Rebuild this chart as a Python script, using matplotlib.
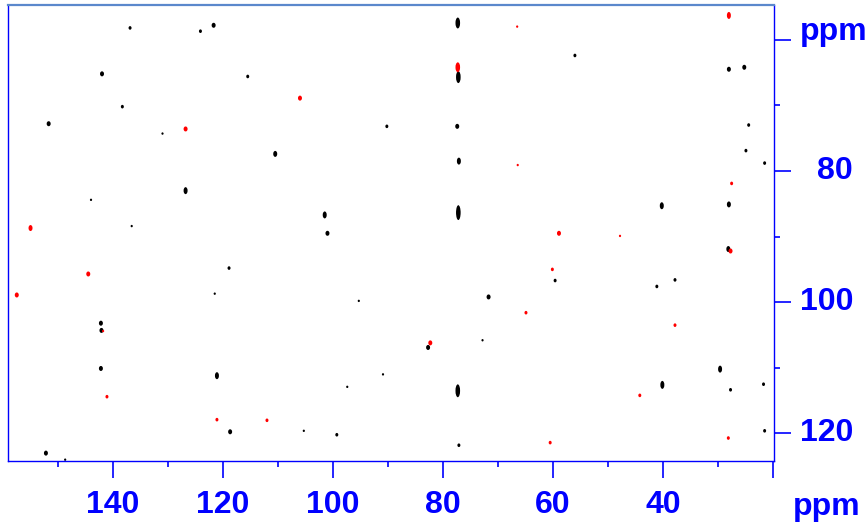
import matplotlib
matplotlib.use('Agg')
import matplotlib.pyplot as plt
from matplotlib.patches import Ellipse
from matplotlib.transforms import blended_transform_factory

# 2D peak lists: F2 (ppm, x), F1 (ppm, y),
# amplitude level (1 weak .. 3 strong) and extra F1 spread of the contour (ppm)
black_f2 = [136.9, 124.1, 121.7, 142.0, 115.5, 138.3, 151.7, 131.0, 110.5, 77.3,
            56.0, 77.2, 90.2, 77.4, 77.1, 28.0, 25.2, 24.4, 24.9, 21.5,
            126.8, 144.0, 136.6, 118.9, 121.5, 142.2, 142.1, 101.5, 101.0, 77.2,
            59.6, 71.7, 95.3, 72.8, 82.7, 40.2, 28.0, 28.1, 37.8, 41.1,
            142.2, 121.1, 118.7, 152.2, 148.7, 90.9, 97.4, 77.3, 105.3, 99.3,
            77.1, 29.6, 40.1, 27.7, 21.7, 21.5]
black_f1 = [58.2, 58.7, 57.8, 65.2, 65.6, 70.2, 72.8, 74.3, 77.4, 57.45,
            62.4, 65.7, 73.2, 73.2, 78.5, 64.5, 64.2, 73.0, 76.9, 78.8,
            83.0, 84.4, 88.4, 94.8, 98.7, 103.2, 104.3, 86.7, 89.5, 86.35,
            96.7, 99.2, 99.8, 105.8, 106.9, 85.3, 85.1, 91.9, 96.6, 97.6,
            110.1, 111.2, 119.75, 123.0, 124.0, 111.0, 112.9, 113.5, 119.6, 120.2,
            121.8, 110.2, 112.6, 113.35, 112.5, 119.6]
black_amp = [2, 2, 3, 3, 2, 2, 3, 1, 3, 3,
             2, 3, 2, 3, 3, 3, 3, 2, 2, 2,
             3, 1, 1, 2, 1, 3, 3, 3, 3, 3,
             2, 3, 1, 1, 3, 3, 3, 3, 2, 2,
             3, 3, 3, 3, 1, 1, 1, 3, 1, 2,
             2, 3, 3, 2, 2, 2]
black_spread = [0, 0, 0, 0, 0, 0, 0, 0, 0.15, 0.9,
                0, 1.05, 0, 0, 0.3, 0, 0, 0, 0, 0,
                0.3, 0, 0, 0, 0, 0, 0, 0.3, 0, 1.5,
                0, 0, 0, 0, 0, 0.3, 0.15, 0.15, 0, 0,
                0, 0.3, 0, 0, 0, 0, 0, 1.2, 0, 0,
                0, 0.3, 0.45, 0, 0, 0]

red_f2 = [126.8, 106.0, 77.3, 66.5, 66.4, 28.0, 155.0, 144.5, 157.5, 141.8,
          58.9, 60.1, 64.9, 82.3, 27.5, 47.8, 27.7, 37.8, 141.1, 121.1,
          112.0, 60.5, 44.2, 28.1]
red_f1 = [73.6, 68.9, 64.2, 58.0, 79.1, 56.3, 88.7, 95.7, 98.9, 104.4,
          89.5, 95.0, 101.6, 106.2, 81.9, 89.9, 92.2, 103.5, 114.4, 117.9,
          118.0, 121.4, 114.2, 120.7]
red_amp = [3, 3, 3, 1, 1, 3, 3, 3, 3, 1,
           3, 2, 2, 3, 2, 1, 3, 2, 2, 2,
           2, 2, 2, 2]
red_spread = [0, 0, 0.75, 0, 0, 0.3, 0.15, 0, 0, 0,
              0, 0, 0, 0, 0, 0, 0, 0, 0, 0,
              0, 0, 0, 0]

x_major = [140, 120, 100, 80, 60, 40, 20]
x_labels = ['140', '120', '100', '80', '60', '40', '']
x_minor = [150, 130, 110, 90, 70, 50, 30]
y_major = [60, 80, 100, 120]
y_labels = ['ppm', '80', '100', '120']
y_minor = [70, 90, 110]

BLUE = '#0000ff'
FONT = 'Liberation Sans'

fig = plt.figure(figsize=(8.67, 5.26), dpi=100)
ax = fig.add_axes([0.0092, 0.1236, 0.8835, 0.867])
ax.set_xlim(159.1, 19.8)
ax.set_ylim(124.2, 54.7)

# pixel -> ppm factors, so the contour blobs keep their pixel size
bw, bh = ax.get_window_extent().width, ax.get_window_extent().height
px_x = bw / abs(159.1 - 19.8)
px_y = bh / abs(124.2 - 54.7)
blob = {1: (2.2, 2.4), 2: (3.0, 3.6), 3: (4.0, 5.0)}


def draw_peaks(f2s, f1s, amps, spreads, color):
    for x, y, a, s in zip(f2s, f1s, amps, spreads):
        w, h = blob[a]
        if s > 0.6:
            w += 0.6
        ax.add_patch(Ellipse((x, y), w / px_x, h / px_y + s,
                             facecolor=color, edgecolor='none'))


draw_peaks(black_f2, black_f1, black_amp, black_spread, 'black')
draw_peaks(red_f2, red_f1, red_amp, red_spread, '#ff0000')

# frame
for side in ['left', 'right', 'bottom']:
    ax.spines[side].set_color(BLUE)
    ax.spines[side].set_linewidth(1.0)
ax.spines['top'].set_color('#5b88cc')
ax.spines['top'].set_linewidth(1.6)

ax.yaxis.tick_right()
ax.set_xticks(x_major)
ax.set_xticklabels(x_labels)
ax.set_xticks(x_minor, minor=True)
ax.set_yticks(y_major)
ax.set_yticklabels([''] * len(y_major))
ax.set_yticks(y_minor, minor=True)

ax.tick_params(axis='both', which='major', direction='out', length=12.2, width=1.2,
               color=BLUE, labelcolor=BLUE)
ax.tick_params(axis='both', which='minor', direction='out', length=4.0, width=1.2,
               color=BLUE)
ax.tick_params(axis='x', which='major', labelsize=23, pad=9)
for lbl in ax.get_xticklabels():
    lbl.set_fontfamily(FONT)
    lbl.set_fontweight('bold')

# right-hand scale labels
tr = blended_transform_factory(fig.transFigure, ax.transData)
for v, lab in zip(y_major, y_labels):
    if lab == 'ppm':
        ax.text(800 / 867, v, lab, transform=tr, ha='left', va='baseline',
                fontsize=23, fontweight='bold', family=FONT, color=BLUE, clip_on=False)
    else:
        ax.text(853 / 867, v, lab, transform=tr, ha='right', va='center',
                fontsize=23, fontweight='bold', family=FONT, color=BLUE, clip_on=False)

fig.text(793 / 867, (526 - 515) / 526, 'ppm', ha='left', va='baseline',
         fontsize=23, fontweight='bold', family=FONT, color=BLUE)

fig.savefig('out.png', dpi=100)
